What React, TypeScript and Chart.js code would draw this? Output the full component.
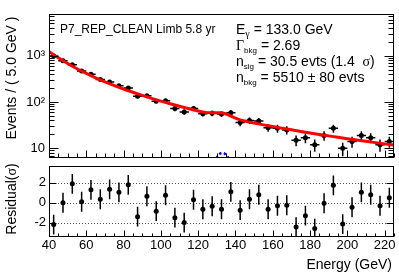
import React, { useEffect, useRef } from "react";
import { Chart, registerables } from "chart.js";

Chart.register(...registerables);

// ---------------- data ----------------
const binCenters = [42.5, 47.5, 52.5, 57.5, 62.5, 67.5, 72.5, 77.5, 82.5, 87.5, 92.5, 97.5, 102.5, 107.5, 112.5, 117.5, 122.5, 127.5, 132.5, 137.5, 142.5, 147.5, 152.5, 157.5, 162.5, 167.5, 172.5, 177.5, 182.5, 187.5, 192.5, 197.5, 202.5, 207.5, 212.5, 217.5, 222.5];
const counts = [976, 775, 638, 466, 396, 306, 270, 224, 200, 133, 137, 104, 106, 72, 61, 72, 56, 57, 55, 59, 36, 40, 39, 28, 27, 25, 15, 17, 12, 19, 27, 10, 14, 19, 17, 12, 14];
const countErrors = [31.2, 27.8, 25.3, 21.6, 19.9, 17.5, 16.4, 15.0, 14.1, 11.5, 11.7, 10.2, 10.3, 8.5, 7.8, 8.5, 7.5, 7.5, 7.4, 7.7, 6.0, 6.3, 6.2, 5.3, 5.2, 5.0, 3.9, 4.1, 3.5, 4.4, 5.2, 3.2, 3.7, 4.4, 4.1, 3.5, 3.7];
const binHalfWidth = 2.5;
const residuals = [-2.2, 0.0, 1.9, 0.1, 1.3, 0.35, 1.35, 1.05, 1.8, -1.4, 0.65, -0.85, 0.75, -1.5, -2.0, 0.3, -0.65, -0.35, -0.65, 1.1, -0.75, 0.35, 0.8, -0.65, -0.3, -0.25, -2.45, -1.3, -2.6, -0.05, 1.75, -2.15, -0.45, 1.05, 0.8, -0.3, 0.5];
const residualErrors = [1, 1, 1, 1, 1, 1, 1, 1, 1, 1, 1, 1, 1, 1, 1, 1, 1, 1, 1, 1, 1, 1, 1, 1, 1, 1, 1, 1, 1, 1, 1, 1, 1, 1, 1, 1, 1];

const fitEnergies = [40, 45, 50, 55, 60, 65, 70, 75, 80, 85, 90, 95, 100, 105, 110, 115, 120, 125, 127.5, 130, 132.5, 135, 137.5, 140, 142.5, 145, 150, 155, 160, 165, 170, 175, 180, 185, 190, 195, 200, 205, 210, 215, 220, 225];
const fitValues = [1228, 895, 675, 522, 413, 333, 273, 227, 190, 162, 139, 120, 104.5, 91.7, 80.9, 71.7, 64.0, 59.0, 58.6, 59.0, 58.4, 55.1, 49.8, 44.8, 41.1, 38.7, 35.1, 32.1, 29.5, 27.2, 25.1, 23.2, 21.5, 20.0, 18.6, 17.3, 16.2, 15.2, 14.2, 13.3, 12.5, 11.8];
const signalEnergies = [124, 126, 128, 130, 131, 132, 133, 134, 135, 136, 138, 140, 142];
const signalValues = [0.9, 2.1, 4.1, 6.3, 7.2, 7.8, 8.0, 7.8, 7.2, 6.3, 4.1, 2.1, 0.9];

const xTickValues = [40, 60, 80, 100, 120, 140, 160, 180, 200, 220];
const logTickValues = [10, 100, 1000];
const logTickLabels = ["10", "10\u00B2", "10\u00B3"];
const residTickValues = [-2, 0, 2];

const xMin = 40;
const xMax = 225;
const yLogMin = 6.2;
const yLogMax = 7900;
const rMin = -3.45;
const rMax = 3.7;

// texts
const sampleLabel = "P7_REP_CLEAN Limb 5.8 yr";
const yTitleTop = "Events / ( 5.0 GeV )";
const xTitle = "Energy (GeV)";

const SANS = "'Liberation Sans', Arial, Helvetica, sans-serif";
const SERIF = "'Liberation Serif', 'Times New Roman', serif";
const f = (s: number, fam = SANS) => `${s}px ${fam}`;

type Run = { t: string; f: string; dy?: number };

function drawRuns(ctx: CanvasRenderingContext2D, x: number, y: number, runs: Run[]) {
  let cx = x;
  for (const r of runs) {
    ctx.font = r.f;
    ctx.fillText(r.t, cx, y + (r.dy || 0));
    cx += ctx.measureText(r.t).width;
  }
  return cx - x;
}
function measureRuns(ctx: CanvasRenderingContext2D, runs: Run[]) {
  let w = 0;
  for (const r of runs) {
    ctx.font = r.f;
    w += ctx.measureText(r.t).width;
  }
  return w;
}
function drawRotated(ctx: CanvasRenderingContext2D, cx: number, cy: number, runs: Run[]) {
  ctx.save();
  ctx.translate(cx, cy);
  ctx.rotate(-Math.PI / 2);
  const w = measureRuns(ctx, runs);
  drawRuns(ctx, -w / 2, 0, runs);
  ctx.restore();
}

function drawFrameAndTicks(
  chart: any,
  xMinor: number[], xMajor: number[], xMinLen: number, xMajLen: number,
  yMinor: number[], yMajor: number[], yMinLen: number, yMajLen: number
) {
  const { ctx, chartArea: a, scales } = chart;
  const x = scales.x, y = scales.y;
  ctx.save();
  ctx.strokeStyle = "#000";
  ctx.lineWidth = 1;
  const L = Math.round(a.left) + 0.5, R = Math.round(a.right) - 0.5;
  const T = Math.round(a.top) + 0.5, B = Math.round(a.bottom) - 0.5;
  ctx.strokeRect(L, T, R - L, B - T);
  ctx.beginPath();
  const xt = (v: number, len: number) => {
    const px = Math.round(x.getPixelForValue(v)) + 0.5;
    ctx.moveTo(px, B);
    ctx.lineTo(px, B - len);
  };
  xMinor.forEach((v) => xt(v, xMinLen));
  xMajor.forEach((v) => xt(v, xMajLen));
  const yt = (v: number, len: number) => {
    const py = Math.round(y.getPixelForValue(v)) + 0.5;
    ctx.moveTo(L, py);
    ctx.lineTo(L + len, py);
    ctx.moveTo(R, py);
    ctx.lineTo(R - len, py);
  };
  yMinor.forEach((v) => yt(v, yMinLen));
  yMajor.forEach((v) => yt(v, yMajLen));
  ctx.stroke();
  ctx.restore();
}

const xMinorTicks: number[] = [];
for (let v = 45; v <= 225; v += 5) if ((v - 40) % 20 !== 0) xMinorTicks.push(v);
const logMinorTicks: number[] = [];
for (const d of [1, 10, 100, 1000]) for (let k = 2; k <= 9; k++) {
  const v = k * d;
  if (v > yLogMin && v < yLogMax) logMinorTicks.push(v);
}

const topPlugin = {
  id: "topDecor",
  beforeDatasetsDraw(chart: any) {
    const { ctx, chartArea: a, scales } = chart;
    const x = scales.x, y = scales.y;
    ctx.save();
    ctx.beginPath();
    ctx.rect(a.left, a.top, a.right - a.left, a.bottom - a.top);
    ctx.clip();
    ctx.strokeStyle = "#000";
    ctx.lineWidth = 1.5;
    ctx.beginPath();
    binCenters.forEach((c, i) => {
      const px = x.getPixelForValue(c);
      const py = y.getPixelForValue(counts[i]);
      ctx.moveTo(x.getPixelForValue(c - binHalfWidth), py);
      ctx.lineTo(x.getPixelForValue(c + binHalfWidth), py);
      ctx.moveTo(px, y.getPixelForValue(counts[i] + countErrors[i]));
      ctx.lineTo(px, y.getPixelForValue(counts[i] - countErrors[i]));
    });
    ctx.stroke();
    ctx.restore();
  },
  afterDraw(chart: any) {
    drawFrameAndTicks(chart, xMinorTicks, xTickValues, 4, 7, logMinorTicks, logTickValues, 5, 9);
    const ctx: CanvasRenderingContext2D = chart.ctx;
    ctx.save();
    ctx.fillStyle = "#000";
    ctx.textAlign = "left";
    ctx.textBaseline = "alphabetic";
    ctx.font = f(12);
    ctx.fillText(sampleLabel, 60, 33);
    const M = f(14), S = f(8), G = f(14, SERIF), GS = f(10, SERIF);
    drawRuns(ctx, 236, 33.5, [{ t: "E", f: M }, { t: "\u03B3", f: GS, dy: 3 }, { t: " = 133.0 GeV", f: M }]);
    drawRuns(ctx, 236, 49.5, [{ t: "\u0393", f: G }, { t: "bkg", f: S, dy: 3 }, { t: " = 2.69", f: M }]);
    drawRuns(ctx, 236, 66, [{ t: "n", f: M }, { t: "sig", f: S, dy: 3 }, { t: " = 30.5 evts (1.4  ", f: M }, { t: "\u03C3", f: G }, { t: ")", f: M }]);
    drawRuns(ctx, 236, 82.3, [{ t: "n", f: M }, { t: "bkg", f: S, dy: 3 }, { t: " = 5510 ", f: M }, { t: "\u00B1", f: M }, { t: " 80 evts", f: M }]);
    drawRotated(ctx, 15.5, 78, [{ t: yTitleTop, f: M }]);
    ctx.restore();
  },
};

const botPlugin = {
  id: "botDecor",
  beforeDatasetsDraw(chart: any) {
    const { ctx, chartArea: a, scales } = chart;
    const x = scales.x, y = scales.y;
    ctx.save();
    ctx.strokeStyle = "#555";
    ctx.lineWidth = 1;
    ctx.setLineDash([1, 2]);
    ctx.beginPath();
    residTickValues.forEach((v) => {
      const py = Math.round(y.getPixelForValue(v)) + 0.5;
      ctx.moveTo(a.left, py);
      ctx.lineTo(a.right, py);
    });
    ctx.stroke();
    ctx.setLineDash([]);
    ctx.beginPath();
    ctx.rect(a.left, a.top, a.right - a.left, a.bottom - a.top);
    ctx.clip();
    ctx.strokeStyle = "#000";
    ctx.lineWidth = 1.5;
    ctx.beginPath();
    binCenters.forEach((c, i) => {
      const px = x.getPixelForValue(c);
      ctx.moveTo(px, y.getPixelForValue(residuals[i] + residualErrors[i]));
      ctx.lineTo(px, y.getPixelForValue(residuals[i] - residualErrors[i]));
    });
    ctx.stroke();
    ctx.restore();
  },
  afterDraw(chart: any) {
    drawFrameAndTicks(chart, xMinorTicks, xTickValues, 3, 6, [], residTickValues, 0, 7);
    const ctx: CanvasRenderingContext2D = chart.ctx;
    ctx.save();
    ctx.fillStyle = "#000";
    ctx.textBaseline = "alphabetic";
    const M = f(14), G = f(14, SERIF);
    drawRotated(ctx, 16, 37, [{ t: "Residual(", f: M }, { t: "\u03C3", f: G }, { t: ")", f: M }]);
    ctx.font = M;
    ctx.textAlign = "right";
    ctx.fillText(xTitle, 392, 107);
    ctx.restore();
  },
};

export default function App() {
  const topRef = useRef<HTMLCanvasElement>(null);
  const botRef = useRef<HTMLCanvasElement>(null);

  useEffect(() => {
    const tickFont = { family: SANS, size: 13 };
    const fitY = (w: number) => (s: any) => { s.width = w; s.paddingTop = 0; s.paddingBottom = 0; };
    const top = new Chart(topRef.current as HTMLCanvasElement, {
      type: "scatter",
      data: {
        datasets: [
          {
            type: "line",
            label: "fit",
            data: fitEnergies.map((e, i) => ({ x: e, y: fitValues[i] })),
            borderColor: "#ff0000",
            borderWidth: 3,
            pointRadius: 0,
            cubicInterpolationMode: "monotone",
            fill: false,
            order: 0,
          } as any,
          {
            label: "data",
            data: binCenters.map((e, i) => ({ x: e, y: counts[i] })),
            backgroundColor: "#000",
            borderColor: "#000",
            borderWidth: 0,
            pointRadius: 2.5,
            order: 1,
          },
          {
            type: "line",
            label: "signal",
            data: signalEnergies.map((e, i) => ({ x: e, y: signalValues[i] })),
            borderColor: "#0000ff",
            borderWidth: 2.5,
            borderDash: [2.5, 2.5],
            pointRadius: 0,
            cubicInterpolationMode: "monotone",
            fill: false,
            order: 2,
          } as any,
        ],
      },
      options: {
        responsive: false,
        animation: false,
        devicePixelRatio: 1,
        layout: { padding: { top: 14, right: 5, bottom: 3, left: 0 } },
        plugins: { legend: { display: false }, tooltip: { enabled: false } },
        scales: {
          x: { type: "linear", min: xMin, max: xMax, display: false },
          y: {
            type: "logarithmic",
            min: yLogMin,
            max: yLogMax,
            afterFit: fitY(49),
            afterBuildTicks: (s: any) => { s.ticks = logTickValues.map((v) => ({ value: v })); },
            ticks: {
              font: tickFont,
              color: "#000",
              padding: 4,
              callback: (v: any) => {
                const i = logTickValues.indexOf(Number(v));
                return i >= 0 ? logTickLabels[i] : "";
              },
            },
            grid: { drawOnChartArea: false, drawTicks: false },
            border: { display: false },
          },
        },
      } as any,
      plugins: [topPlugin],
    });

    const bot = new Chart(botRef.current as HTMLCanvasElement, {
      type: "scatter",
      data: {
        datasets: [
          {
            label: "residual",
            data: binCenters.map((e, i) => ({ x: e, y: residuals[i] })),
            backgroundColor: "#000",
            borderColor: "#000",
            borderWidth: 0,
            pointRadius: 2.5,
          },
        ],
      },
      options: {
        responsive: false,
        animation: false,
        devicePixelRatio: 1,
        layout: { padding: { top: 3, right: 5, bottom: 0, left: 0 } },
        plugins: { legend: { display: false }, tooltip: { enabled: false } },
        scales: {
          x: {
            type: "linear",
            min: xMin,
            max: xMax,
            afterFit: (s: any) => { s.height = 37; s.paddingLeft = 0; s.paddingRight = 0; },
            afterBuildTicks: (s: any) => { s.ticks = xTickValues.map((v) => ({ value: v })); },
            ticks: { font: tickFont, color: "#000", padding: 1, autoSkip: false, maxRotation: 0 },
            grid: { drawOnChartArea: false, drawTicks: false },
            border: { display: false },
          },
          y: {
            type: "linear",
            min: rMin,
            max: rMax,
            afterFit: fitY(49),
            afterBuildTicks: (s: any) => { s.ticks = residTickValues.map((v) => ({ value: v })); },
            ticks: { font: tickFont, color: "#000", padding: 3 },
            grid: { drawOnChartArea: false, drawTicks: false },
            border: { display: false },
          },
        },
      } as any,
      plugins: [botPlugin],
    });

    return () => {
      top.destroy();
      bot.destroy();
    };
  }, []);

  return (
    <div style={{ position: "fixed", left: 0, top: 0, width: 399, height: 274, background: "#fff" }}>
      <canvas ref={topRef} width={399} height={162} style={{ position: "absolute", left: 0, top: 0 }} />
      <canvas ref={botRef} width={399} height={112} style={{ position: "absolute", left: 0, top: 162 }} />
    </div>
  );
}
